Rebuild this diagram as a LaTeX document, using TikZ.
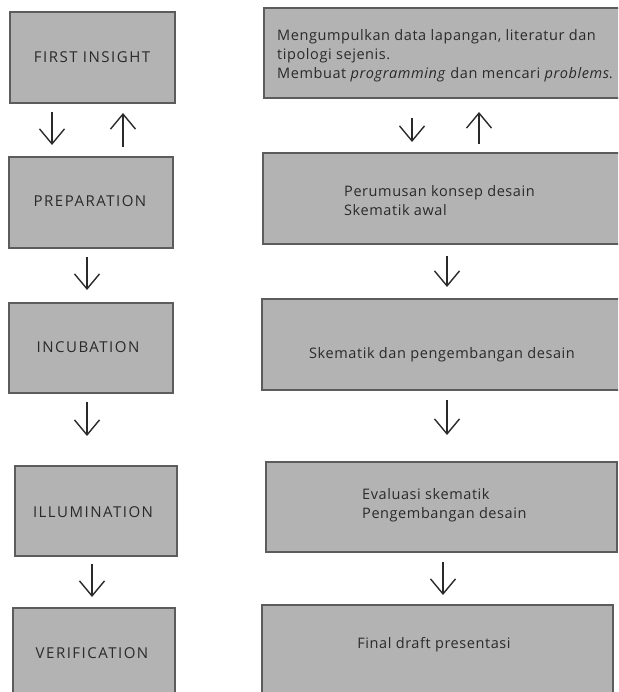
\documentclass[tikz,border=0pt]{standalone}
\usepackage{fontspec}
\setmainfont{Open Sans}
\newfontfamily\capsfont[LetterSpace=10]{Open Sans}
\newfontfamily\bodyfont[LetterSpace=4]{Open Sans}
\usetikzlibrary{arrows.meta}
\definecolor{boxfill}{HTML}{B3B3B3}
\definecolor{boxline}{HTML}{5C5C5C}
\definecolor{ink}{HTML}{2A2A2A}
\begin{document}
\begin{tikzpicture}[x=1pt,y=-1pt,
  box/.style={draw=boxline, fill=boxfill, line width=1.2pt, inner sep=0pt, outer sep=0pt},
  lbl/.style={text=ink, font=\capsfont\fontsize{15}{18}\selectfont, inner sep=0pt},
  rlbl/.style={text=ink, font=\bodyfont\fontsize{14.5}{19}\selectfont, inner sep=0pt, align=left},
  arr/.style={draw=ink, line width=1.4pt, -{Straight Barb[length=15pt,width=25pt]}}
]
\useasboundingbox (0,0) rectangle (618,692);
\clip (0,0) rectangle (618,692);

% left column boxes
\node[box, minimum width=165pt, minimum height=91pt] (fi) at (92.5,57.5) {};
\node[box, minimum width=164pt, minimum height=91pt] (prep) at (91,202.5) {};
\node[box, minimum width=164pt, minimum height=90pt] (inc) at (91,348) {};
\node[box, minimum width=162pt, minimum height=90pt] (ill) at (96,511) {};
\node[box, minimum width=162pt, minimum height=91pt] (ver) at (94,653.5) {};

\node[lbl] (fit) at (92,57) {FIRST INSIGHT};
\node[lbl] (prept) at (90,201) {PREPARATION};
\node[lbl] (inct) at (88,347) {INCUBATION};
\node[lbl] (illt) at (93,512) {ILLUMINATION};
\node[lbl] (vert) at (92,653) {VERIFICATION};

% right column boxes
\node[box, minimum width=360pt, minimum height=90pt] (r1) at (444,53) {};
\node[box, minimum width=360pt, minimum height=91pt] (r2) at (443,198.5) {};
\node[box, minimum width=360pt, minimum height=91pt] (r3) at (442,344.5) {};
\node[box, minimum width=351pt, minimum height=90pt] (r4) at (441.5,507) {};
\node[box, minimum width=351pt, minimum height=95pt] (r5) at (437.5,652.5) {};

\node[rlbl, anchor=west] (r1t) at (277,56) {Mengumpulkan data lapangan, literatur dan\\tipologi sejenis.\\Membuat \textit{programming} dan mencari \textit{problems.}};
\node[rlbl, anchor=west] (r2t) at (344,201) {Perumusan konsep desain\\Skematik awal};
\node[rlbl] (r3t) at (442,355) {Skematik dan pengembangan desain};
\node[rlbl, anchor=west] (r4t) at (362,505.5) {Evaluasi skematik\\Pengembangan desain};
\node[rlbl] (r5t) at (434,645) {Final draft presentasi};

% left arrows
\draw[arr, shorten <=9pt, shorten >=12pt] ([xshift=-40.5pt]fi.south) -- ([xshift=-40.5pt]fi.south |- prep.north);
\draw[arr, shorten <=10pt, shorten >=10pt] ([xshift=32pt]prep.north) -- ([xshift=32pt]prep.north |- fi.south);
\draw[arr, shorten <=9pt, shorten >=13pt] ([xshift=-4pt]prep.south) -- ([xshift=-4pt]prep.south |- inc.north);
\draw[arr, shorten <=9pt, shorten >=30pt] ([xshift=-4pt]inc.south) -- ([xshift=-4pt]inc.south |- ill.north);
\draw[arr, shorten <=8pt, shorten >=11pt] ([xshift=-4pt]ill.south) -- ([xshift=-4pt]ill.south |- ver.north);

% right arrows
\draw[arr, shorten <=20pt, shorten >=11pt] ([xshift=-32pt]r1.south) -- ([xshift=-32pt]r1.south |- r2.north);
\draw[arr, shorten <=9pt, shorten >=14pt] ([xshift=36pt]r2.north) -- ([xshift=36pt]r2.north |- r1.south);
\draw[arr, shorten <=12pt, shorten >=12pt] ([xshift=4pt]r2.south) -- ([xshift=4pt]r2.south |- r3.north);
\draw[arr, shorten <=10pt, shorten >=27pt] ([xshift=5pt]r3.south) -- ([xshift=5pt]r3.south |- r4.north);
\draw[arr, shorten <=10pt, shorten >=10pt] ([xshift=1.5pt]r4.south) -- ([xshift=1.5pt]r4.south |- r5.north);
\end{tikzpicture}
\end{document}
